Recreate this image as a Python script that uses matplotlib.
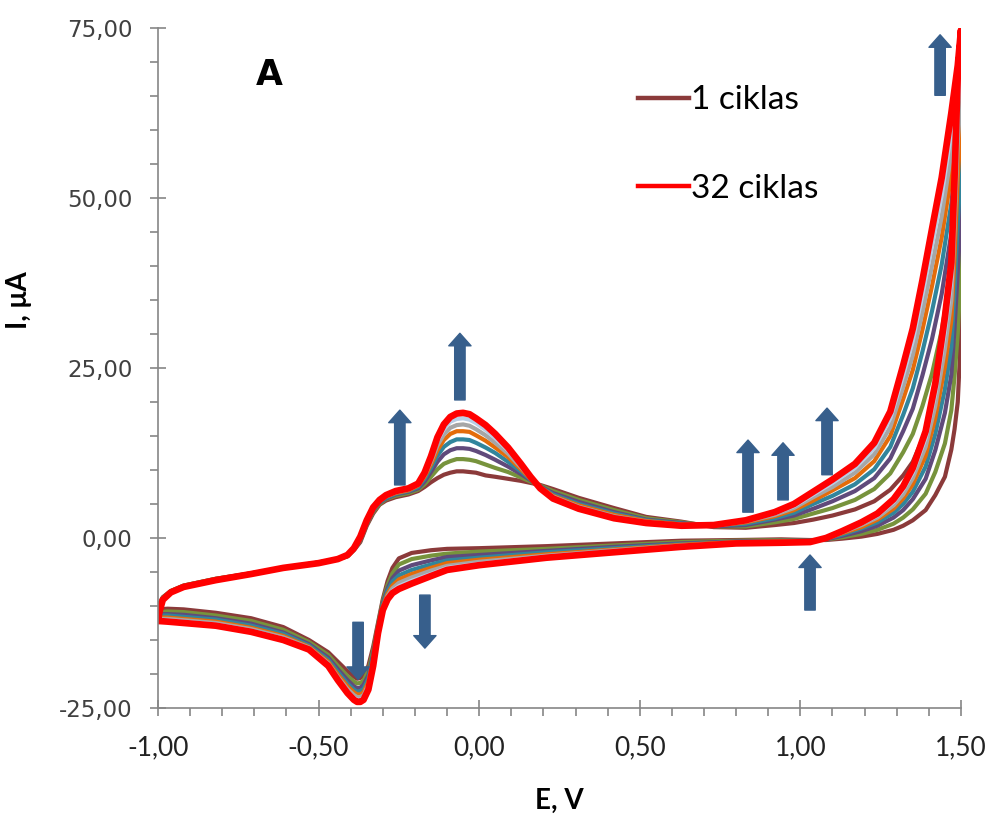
import matplotlib.pyplot as plt
from matplotlib.lines import Line2D
from matplotlib.patches import FancyArrowPatch
from matplotlib.ticker import MultipleLocator, FuncFormatter

# potential grids (V): forward scan -1 -> 1.5, reverse scan 1.5 -> -1
e_fwd = [-1.00, -0.995, -0.985, -0.96, -0.92, -0.82, -0.71, -0.61, -0.50, -0.44,
         -0.41, -0.39, -0.37, -0.35, -0.33, -0.31, -0.29, -0.26, -0.22, -0.19,
         -0.17, -0.15, -0.13, -0.11, -0.09, -0.07, -0.05, -0.03, -0.01, 0.02,
         0.05, 0.09, 0.13, 0.16, 0.19, 0.23, 0.31, 0.42, 0.52, 0.63,
         0.73, 0.83, 0.92, 0.98, 1.04, 1.10, 1.17, 1.23, 1.28, 1.32,
         1.35, 1.38, 1.41, 1.44, 1.47, 1.49, 1.50]
e_rev = [1.50, 1.499, 1.497, 1.49, 1.48, 1.47, 1.45, 1.42, 1.39, 1.35,
         1.32, 1.29, 1.24, 1.19, 1.13, 1.08, 1.03, 0.94, 0.80, 0.63,
         0.42, 0.21, 0.00, -0.10, -0.15, -0.21, -0.25, -0.27, -0.285, -0.30,
         -0.315, -0.33, -0.345, -0.36, -0.37, -0.38, -0.39, -0.41, -0.44, -0.47,
         -0.53, -0.61, -0.71, -0.82, -0.92, -0.97, -1.00]

# currents (uA), per cycle
i_fwd = {
    1: [-10.5, -9.6, -8.7, -7.8, -7.0, -6.0, -5.2, -4.4, -3.6, -3.1,
        -2.7, -1.8, -0.6, 1.8, 3.6, 4.9, 5.5, 6.0, 6.4, 6.9,
        7.5, 8.2, 8.8, 9.3, 9.6, 9.8, 9.8, 9.7, 9.6, 9.2,
        9.0, 8.7, 8.4, 8.1, 7.8, 7.2, 5.9, 4.4, 3.1, 2.4,
        1.6, 1.5, 1.9, 2.2, 2.7, 3.3, 4.2, 5.4, 7.1, 9.2,
        11.2, 14.5, 18.5, 24.5, 33.0, 43.0, 57.0],
    4: [-10.9, -9.9, -8.8, -7.8, -7.0, -6.0, -5.2, -4.4, -3.6, -3.1,
        -2.7, -1.7, -0.4, 2.0, 3.8, 5.0, 5.7, 6.2, 6.6, 7.1,
        7.9, 9.0, 10.1, 10.9, 11.3, 11.6, 11.6, 11.5, 11.3, 10.8,
        10.3, 9.7, 8.9, 8.3, 7.7, 6.9, 5.6, 4.1, 2.9, 2.3,
        1.7, 1.7, 2.3, 2.8, 3.6, 4.4, 5.6, 7.2, 9.5, 12.6,
        15.3, 19.4, 24.2, 30.5, 39.2, 48.6, 60.7],
    8: [-11.2, -10.1, -8.9, -7.9, -7.1, -6.1, -5.2, -4.4, -3.6, -3.1,
        -2.6, -1.7, -0.3, 2.1, 4.0, 5.2, 5.8, 6.4, 6.8, 7.3,
        8.3, 9.7, 11.2, 12.3, 12.9, 13.2, 13.2, 13.1, 12.8, 12.2,
        11.5, 10.5, 9.4, 8.5, 7.6, 6.6, 5.3, 3.8, 2.7, 2.2,
        1.7, 1.9, 2.7, 3.3, 4.3, 5.4, 6.9, 8.8, 11.7, 15.7,
        19.0, 23.9, 29.3, 35.9, 44.8, 53.6, 64.1],
    12: [-11.4, -10.3, -8.9, -7.9, -7.1, -6.1, -5.3, -4.4, -3.7, -3.1,
         -2.6, -1.6, -0.2, 2.2, 4.1, 5.3, 5.9, 6.5, 6.9, 7.5,
         8.7, 10.3, 12.1, 13.4, 14.1, 14.5, 14.5, 14.4, 14.0, 13.3,
         12.5, 11.2, 9.8, 8.6, 7.5, 6.4, 5.0, 3.6, 2.6, 2.1,
         1.8, 2.1, 2.9, 3.7, 5.0, 6.2, 7.9, 10.1, 13.4, 18.1,
         22.0, 27.4, 33.4, 40.2, 49.2, 57.6, 66.7],
    17: [-11.7, -10.4, -9.0, -7.9, -7.1, -6.1, -5.3, -4.4, -3.7, -3.1,
         -2.6, -1.6, -0.1, 2.4, 4.2, 5.4, 6.1, 6.6, 7.0, 7.7,
         9.0, 10.8, 12.9, 14.4, 15.3, 15.7, 15.7, 15.6, 15.1, 14.3,
         13.3, 11.9, 10.1, 8.7, 7.5, 6.2, 4.8, 3.4, 2.5, 2.0,
         1.8, 2.3, 3.2, 4.1, 5.5, 7.0, 8.8, 11.3, 15.0, 20.4,
         24.7, 30.6, 37.1, 44.2, 53.4, 61.3, 69.2],
    22: [-11.9, -10.6, -9.0, -8.0, -7.2, -6.2, -5.3, -4.4, -3.7, -3.1,
         -2.5, -1.6, 0.0, 2.4, 4.3, 5.5, 6.1, 6.7, 7.1, 7.8,
         9.2, 11.2, 13.6, 15.2, 16.2, 16.6, 16.7, 16.5, 16.0, 15.1,
         14.0, 12.4, 10.4, 8.8, 7.4, 6.1, 4.6, 3.2, 2.4, 1.9,
         1.8, 2.4, 3.4, 4.4, 6.0, 7.5, 9.6, 12.3, 16.3, 22.2,
         26.9, 33.2, 40.1, 47.3, 56.6, 64.2, 71.2],
    27: [-12.0, -10.7, -9.1, -8.0, -7.2, -6.2, -5.3, -4.4, -3.7, -3.1,
         -2.5, -1.5, 0.1, 2.5, 4.4, 5.5, 6.2, 6.8, 7.2, 7.9,
         9.4, 11.7, 14.3, 16.0, 17.1, 17.5, 17.6, 17.4, 16.9, 15.9,
         14.7, 12.9, 10.7, 8.9, 7.3, 5.9, 4.4, 3.0, 2.3, 1.9,
         1.9, 2.5, 3.6, 4.7, 6.4, 8.1, 10.3, 13.2, 17.6, 23.9,
         29.0, 35.8, 43.1, 50.4, 59.8, 67.1, 73.1],
    32: [-12.2, -10.8, -9.1, -8.0, -7.2, -6.2, -5.3, -4.4, -3.7, -3.1,
         -2.5, -1.5, 0.2, 2.6, 4.5, 5.6, 6.3, 6.9, 7.3, 8.0,
         9.6, 12.0, 14.8, 16.7, 17.8, 18.3, 18.4, 18.2, 17.6, 16.6,
         15.3, 13.3, 10.9, 9.0, 7.3, 5.8, 4.3, 2.9, 2.2, 1.8,
         1.9, 2.6, 3.8, 5.0, 6.8, 8.6, 10.9, 14.0, 18.6, 25.4,
         30.8, 37.9, 45.5, 53.0, 62.5, 69.5, 74.7],
}
i_rev = {
    1: [57.0, 40.0, 27.0, 20.0, 16.0, 13.0, 9.0, 6.3, 4.1, 2.6,
        1.8, 1.2, 0.6, 0.2, -0.1, -0.3, -0.3, -0.2, -0.3, -0.4,
        -0.8, -1.2, -1.5, -1.6, -1.8, -2.2, -3.0, -4.4, -6.3, -9.0,
        -12.5, -16.0, -18.8, -20.2, -20.6, -20.7, -20.4, -19.6, -18.2, -16.8,
        -15.0, -13.1, -11.8, -11.0, -10.5, -10.4, -10.5],
    4: [60.7, 47.0, 36.5, 30.1, 23.8, 18.8, 13.9, 9.7, 6.5, 4.2,
        3.0, 2.1, 1.2, 0.6, 0.1, -0.2, -0.4, -0.3, -0.4, -0.6,
        -1.1, -1.6, -2.0, -2.3, -2.6, -3.1, -3.9, -5.2, -6.9, -9.3,
        -12.8, -16.6, -19.5, -21.0, -21.3, -21.4, -21.1, -20.3, -18.8, -17.2,
        -15.3, -13.5, -12.2, -11.4, -10.9, -10.8, -10.9],
    8: [64.1, 53.4, 45.0, 39.2, 30.8, 24.0, 18.4, 12.9, 8.7, 5.7,
        4.1, 3.0, 1.8, 1.0, 0.3, -0.2, -0.4, -0.4, -0.5, -0.8,
        -1.3, -1.9, -2.5, -2.8, -3.3, -4.0, -4.8, -5.9, -7.4, -9.6,
        -13.1, -17.1, -20.2, -21.6, -22.0, -22.1, -21.8, -20.9, -19.3, -17.6,
        -15.6, -13.9, -12.6, -11.8, -11.3, -11.2, -11.2],
    12: [66.7, 58.4, 51.8, 46.4, 36.4, 28.1, 21.9, 15.3, 10.5, 6.8,
         5.0, 3.7, 2.3, 1.4, 0.5, -0.1, -0.5, -0.5, -0.6, -0.9,
         -1.5, -2.1, -2.9, -3.3, -3.9, -4.7, -5.5, -6.4, -7.8, -9.9,
         -13.3, -17.5, -20.7, -22.2, -22.5, -22.6, -22.3, -21.4, -19.7, -17.9,
         -15.8, -14.1, -12.9, -12.0, -11.6, -11.4, -11.4],
    17: [69.2, 63.1, 58.1, 53.1, 41.5, 32.0, 25.2, 17.6, 12.1, 7.9,
         5.8, 4.3, 2.7, 1.6, 0.7, -0.1, -0.5, -0.5, -0.6, -1.0,
         -1.7, -2.4, -3.2, -3.7, -4.4, -5.3, -6.1, -7.0, -8.2, -10.1,
         -13.5, -17.9, -21.2, -22.7, -23.0, -23.0, -22.7, -21.8, -20.1, -18.2,
         -16.0, -14.4, -13.2, -12.3, -11.9, -11.7, -11.7],
    22: [71.2, 66.8, 63.0, 58.4, 45.6, 35.0, 27.8, 19.4, 13.4, 8.8,
         6.4, 4.8, 3.0, 1.9, 0.8, -0.1, -0.5, -0.6, -0.7, -1.1,
         -1.8, -2.6, -3.5, -4.1, -4.8, -5.8, -6.6, -7.4, -8.5, -10.3,
         -13.7, -18.2, -21.6, -23.1, -23.4, -23.4, -23.1, -22.2, -20.4, -18.4,
         -16.1, -14.6, -13.4, -12.5, -12.1, -11.9, -11.9],
    27: [73.1, 70.5, 68.0, 63.7, 49.7, 38.0, 30.4, 21.2, 14.7, 9.6,
         7.1, 5.3, 3.3, 2.1, 0.9, 0.0, -0.6, -0.7, -0.8, -1.2,
         -2.0, -2.7, -3.8, -4.4, -5.3, -6.3, -7.1, -7.8, -8.8, -10.5,
         -13.9, -18.5, -22.0, -23.5, -23.8, -23.8, -23.5, -22.5, -20.7, -18.6,
         -16.3, -14.8, -13.6, -12.7, -12.3, -12.1, -12.0],
    32: [74.7, 73.5, 72.0, 68.0, 53.0, 40.5, 32.5, 22.7, 15.7, 10.3,
         7.6, 5.7, 3.6, 2.3, 1.0, 0.0, -0.6, -0.7, -0.8, -1.3,
         -2.1, -2.9, -4.0, -4.7, -5.6, -6.7, -7.5, -8.1, -9.0, -10.6,
         -14.0, -18.8, -22.3, -23.8, -24.1, -24.1, -23.8, -22.8, -20.9, -18.8,
         -16.4, -15.0, -13.8, -12.9, -12.5, -12.3, -12.2],
}

colors = {1: '#8B3A3A', 4: '#77933C', 8: '#604A7B', 12: '#31859C',
          17: '#E46C0A', 22: '#A6A6A6', 27: '#B9CDE5', 32: '#FF0000'}

# arrows: (E, I tail) -> (E, I head)
arrows = [((-0.060, 20.3), (-0.060, 30.1)),
          ((-0.247, 7.8), (-0.247, 18.8)),
          ((-0.377, -12.4), (-0.377, -20.8)),
          ((-0.169, -8.4), (-0.169, -16.2)),
          ((0.837, 3.8), (0.837, 14.4)),
          ((0.946, 5.6), (0.946, 14.0)),
          ((1.083, 9.3), (1.083, 19.1)),
          ((1.030, -10.6), (1.030, -2.5)),
          ((1.435, 65.1), (1.435, 74.0))]

fig = plt.figure(figsize=(9.91, 8.18), dpi=100)
ax = fig.add_axes([0.1594, 0.1345, 0.8103, 0.8313])

for c in i_fwd:
    e = e_fwd + e_rev
    i = i_fwd[c] + i_rev[c]
    lw = 4.8 if c == 32 else 3.0
    ax.plot(e, i, color=colors[c], lw=lw, solid_capstyle='round',
            solid_joinstyle='round', zorder=2 + c / 100)

for tail, head in arrows:
    ax.add_patch(FancyArrowPatch(tail, head, mutation_scale=10,
                                 arrowstyle='simple,head_length=0.9,head_width=1.6,tail_width=0.75',
                                 color='#375F8C', shrinkA=0, shrinkB=0, zorder=5))

ax.set_xlim(-1, 1.5)
ax.set_ylim(-25, 75)
ax.xaxis.set_major_locator(MultipleLocator(0.5))
ax.xaxis.set_minor_locator(MultipleLocator(0.1))
ax.yaxis.set_major_locator(MultipleLocator(25))
ax.yaxis.set_minor_locator(MultipleLocator(5))
fmt = FuncFormatter(lambda v, p: f"{v:.2f}".replace('.', ','))
ax.xaxis.set_major_formatter(fmt)
ax.yaxis.set_major_formatter(fmt)

for s in ['top', 'right']:
    ax.spines[s].set_visible(False)
for s in ['left', 'bottom']:
    ax.spines[s].set_color('#868686')
    ax.spines[s].set_linewidth(1.2)

ax.tick_params(which='major', direction='inout', length=11, width=1.2, color='#868686')
ax.tick_params(which='minor', direction='out', length=5.5, width=1.2, color='#868686')
ax.tick_params(axis='y', which='major', pad=13, labelsize=16.5, labelcolor='#404040')
ax.tick_params(axis='x', which='major', pad=14, labelsize=19, labelcolor='#222222')
for lab in ax.get_xticklabels():
    lab.set_family(['Lato', 'DejaVu Sans'])

ax.set_xlabel('E, V', fontsize=20, fontweight='bold', family=['Lato', 'DejaVu Sans'], labelpad=20)
ax.set_ylabel('I, μA', fontsize=20, fontweight='bold', family=['Lato', 'DejaVu Sans'])
ax.yaxis.set_label_coords(-0.157, 0.6)

ax.text(0.139, 0.931, 'A', transform=ax.transAxes, fontsize=25, fontweight='bold',
        ha='center', va='center')

handles = [Line2D([], [], color=colors[1], lw=3.2),
           Line2D([], [], color=colors[32], lw=3.2)]
ax.legend(handles, ['1 ciklas', '32 ciklas'], loc='upper left',
          bbox_to_anchor=(0.56, 0.96), frameon=False, handlelength=1.55,
          handletextpad=0.05, labelspacing=1.75,
          prop={'family': ['Lato', 'DejaVu Sans'], 'size': 24})

fig.savefig('out.png', dpi=100)
